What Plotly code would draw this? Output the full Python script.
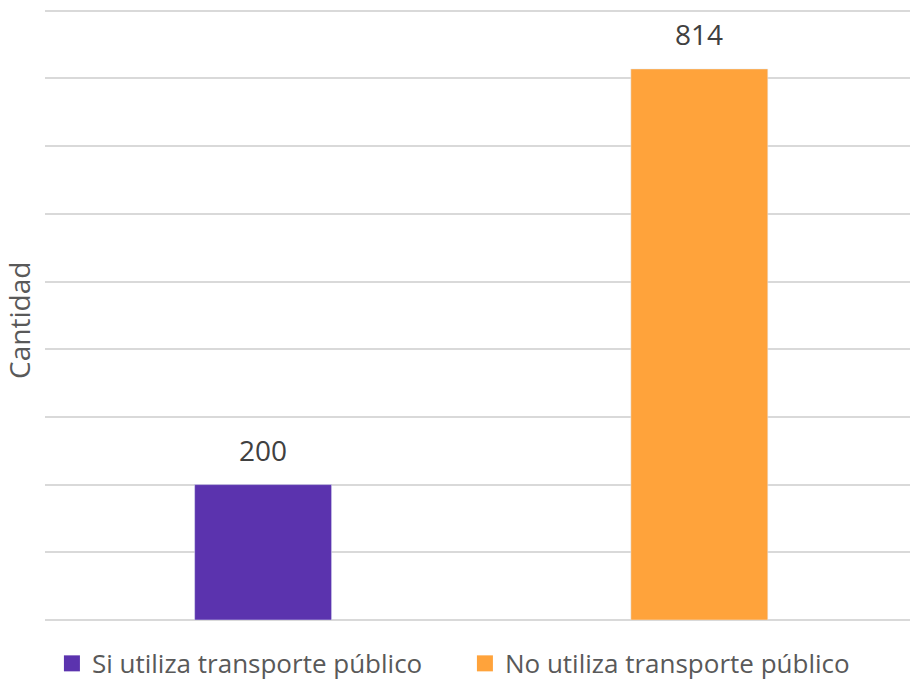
import plotly.graph_objects as go

categories = ["Si utiliza transporte público", "No utiliza transporte público"]
values = [200, 814]
colors = ["#5B33AE", "#FFA33B"]
y_title = "Cantidad"

fig = go.Figure()
for cat, val, col in zip(categories, values, colors):
    fig.add_trace(go.Bar(
        x=[cat], y=[val], name=cat, marker_color=col, width=0.314,
        showlegend=False, hoverinfo="x+y"))
    fig.add_annotation(x=cat, y=val, text=str(val), showarrow=False,
                       yanchor="bottom", yshift=14,
                       font=dict(family="Open Sans", size=28, color="#404040"))
    fig.add_trace(go.Scatter(
        x=[None], y=[None], mode="markers", name=cat,
        marker=dict(symbol="square", size=18, color=col)))

fig.add_annotation(text=y_title, xref="paper", yref="paper",
                   x=-0.0303, y=0.49, xanchor="center", yanchor="middle",
                   textangle=-90, showarrow=False,
                   font=dict(family="Open Sans", size=28, color="#595959"))

fig.update_layout(
    width=910, height=683,
    margin=dict(l=45, r=0, t=8, b=63, autoexpand=False),
    paper_bgcolor="white", plot_bgcolor="white",
    barmode="overlay",
    font=dict(family="Open Sans", color="#595959"),
    xaxis=dict(range=[-0.5, 1.483], showticklabels=False, showgrid=False,
               zeroline=False, showline=False, ticks=""),
    yaxis=dict(range=[0, 904], dtick=100, showticklabels=False,
               gridcolor="#D9D9D9", gridwidth=1.5, zeroline=True,
               zerolinecolor="#D9D9D9", zerolinewidth=1.5, automargin=False),
    legend=dict(orientation="h", x=0.008, xanchor="left", y=-0.071,
                yanchor="middle", font=dict(size=26, color="#595959"),
                itemwidth=30, entrywidth=368, entrywidthmode="pixels"),
)
fig.write_html("out.html", config={"displayModeBar": False})

with open("out.html", "r", encoding="utf-8") as f:
    html = f.read()
html = html.replace("<head>", "<head><style>html,body{margin:0;padding:0;overflow:hidden;}</style>", 1)
with open("out.html", "w", encoding="utf-8") as f:
    f.write(html)
